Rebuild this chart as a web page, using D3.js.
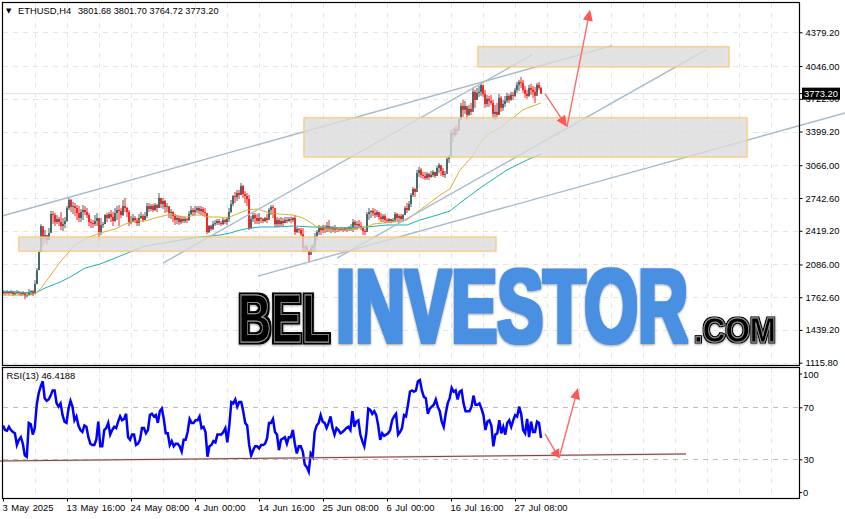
<!DOCTYPE html>
<html><head><meta charset="utf-8">
<script src="https://cdn.jsdelivr.net/npm/d3@7/dist/d3.min.js"></script>
<style>html,body{margin:0;padding:0;background:#fff}svg{display:block}text{font-family:"Liberation Sans",sans-serif;font-size:9.4px;fill:#000}</style>
</head><body><svg id="c" width="845" height="519"></svg>
<script>
const symbolTitle="ETHUSD,H4";
const ohlcTitle="3801.68 3801.70 3764.72 3773.20";
const rsiTitle="RSI(13) 46.4188";
const priceTicks=[4379.2,4046,3722,3399.2,3066,2742.6,2419.2,2086,1762.6,1439.2,1115.8];
const rsiTicks=[70,30];
const rsiLabelled=["100","70","30","0"];
const timeTickBars=[0,64,128,192,256,320,384,448,512];
const timeTickLabels=["3 May 2025","13 May 16:00","24 May 08:00","4 Jun 00:00","14 Jun 16:00","25 Jun 08:00","6 Jul 00:00","16 Jul 16:00","27 Jul 08:00"];
const lastPrice=3773.2;
const highs=[1832,1823,1832,1823,1832,1823,1823,1832,1823,1813,1823,1803,1803,1843,1832,1832,1931,2050,2228,2485,2436,2426,2377,2446,2614,2614,2594,2574,2555,2604,2545,2555,2663,2743,2733,2703,2693,2673,2663,2634,2673,2663,2644,2594,2535,2525,2574,2594,2545,2545,2505,2584,2594,2604,2624,2604,2644,2663,2673,2644,2723,2743,2654,2624,2565,2584,2565,2545,2584,2604,2584,2604,2693,2693,2683,2683,2693,2683,2792,2743,2743,2723,2693,2654,2634,2614,2584,2574,2565,2565,2555,2555,2545,2614,2663,2644,2663,2663,2663,2663,2654,2644,2594,2476,2476,2515,2525,2535,2535,2515,2545,2535,2555,2644,2723,2772,2802,2822,2822,2891,2871,2812,2792,2772,2565,2594,2594,2584,2594,2555,2545,2555,2584,2644,2673,2673,2604,2555,2545,2555,2545,2555,2555,2555,2555,2555,2574,2456,2446,2446,2446,2278,2278,2228,2278,2288,2396,2426,2476,2466,2476,2476,2505,2525,2466,2466,2476,2456,2456,2456,2456,2456,2456,2466,2485,2535,2525,2515,2525,2505,2456,2436,2604,2644,2624,2644,2634,2624,2604,2594,2584,2584,2545,2545,2535,2545,2604,2594,2584,2584,2584,2663,2693,2713,2792,2851,2841,3020,3049,3039,3000,3000,3000,2990,3010,3020,3000,3059,3089,3059,3039,3010,3148,3168,3415,3435,3455,3464,3534,3682,3712,3702,3633,3662,3682,3830,3811,3830,3850,3880,3840,3811,3761,3751,3761,3712,3662,3682,3771,3751,3712,3751,3781,3771,3791,3791,3830,3890,3909,3939,3909,3850,3811,3860,3870,3850,3840,3880,3890,3840];
const lows=[1793,1783,1793,1783,1793,1773,1783,1793,1783,1773,1783,1744,1763,1783,1783,1773,1803,1892,2030,2228,2268,2298,2278,2327,2406,2485,2466,2485,2466,2426,2416,2446,2505,2624,2604,2584,2565,2525,2505,2505,2525,2574,2545,2466,2446,2446,2466,2466,2317,2377,2446,2485,2505,2535,2505,2466,2505,2525,2466,2545,2565,2604,2555,2466,2485,2505,2495,2466,2466,2535,2505,2525,2545,2604,2614,2604,2614,2604,2644,2644,2634,2594,2604,2545,2535,2505,2476,2485,2476,2485,2495,2495,2495,2515,2574,2565,2574,2594,2584,2574,2565,2555,2386,2396,2416,2426,2466,2476,2476,2466,2476,2485,2476,2505,2594,2663,2693,2713,2733,2772,2743,2693,2663,2426,2436,2505,2485,2485,2485,2495,2495,2505,2495,2545,2574,2545,2456,2456,2456,2466,2456,2495,2495,2505,2495,2505,2377,2396,2396,2367,2209,2209,2209,2110,2209,2209,2209,2327,2377,2377,2396,2396,2406,2406,2396,2406,2396,2406,2406,2416,2406,2416,2406,2416,2416,2406,2426,2426,2446,2426,2377,2377,2426,2525,2545,2565,2545,2555,2525,2505,2505,2495,2495,2495,2495,2505,2505,2505,2495,2515,2505,2574,2594,2614,2654,2752,2752,2841,2950,2940,2930,2921,2921,2921,2940,2950,2940,2970,2990,2960,2950,2940,3020,3089,3148,3296,3346,3366,3435,3514,3544,3573,3514,3553,3563,3633,3633,3712,3741,3751,3741,3633,3642,3642,3662,3534,3514,3534,3563,3593,3603,3642,3682,3682,3702,3712,3741,3781,3801,3830,3781,3731,3722,3741,3761,3731,3682,3791,3811,3771];
const closes=[1813,1803,1813,1803,1813,1793,1803,1813,1803,1793,1803,1773,1783,1813,1823,1793,1892,2030,2209,2466,2347,2377,2327,2396,2584,2574,2505,2535,2505,2466,2485,2515,2644,2723,2654,2663,2644,2594,2545,2604,2624,2604,2574,2505,2495,2485,2515,2545,2406,2476,2485,2574,2545,2584,2555,2515,2594,2624,2614,2574,2663,2644,2604,2505,2505,2545,2525,2495,2545,2565,2525,2565,2663,2634,2663,2624,2673,2644,2743,2683,2713,2654,2663,2594,2604,2565,2525,2545,2505,2535,2515,2535,2525,2584,2624,2604,2624,2644,2614,2634,2604,2594,2406,2466,2436,2485,2495,2515,2495,2485,2525,2505,2535,2604,2683,2762,2752,2792,2772,2861,2782,2762,2733,2446,2535,2574,2545,2515,2545,2535,2515,2545,2525,2624,2654,2644,2485,2525,2485,2515,2495,2525,2515,2535,2525,2545,2406,2436,2426,2386,2248,2258,2228,2179,2248,2268,2367,2406,2446,2426,2456,2436,2466,2436,2446,2426,2446,2436,2426,2436,2426,2446,2436,2446,2446,2505,2476,2485,2466,2456,2416,2406,2584,2604,2614,2594,2574,2604,2555,2535,2565,2525,2515,2535,2515,2525,2584,2545,2565,2535,2574,2644,2624,2683,2772,2832,2802,2990,3020,2970,2960,2940,2980,2950,2970,3000,2960,3039,3069,3010,2970,2980,3128,3148,3385,3366,3425,3405,3514,3652,3613,3652,3563,3623,3593,3791,3712,3781,3791,3860,3771,3672,3722,3702,3682,3573,3593,3563,3731,3633,3672,3702,3751,3712,3761,3751,3811,3860,3890,3880,3811,3771,3751,3830,3811,3791,3751,3860,3830,3773];
const maFastBars=[0,27,33,39,47,57,65,72,84,97,112,122,132,142,152,160,169,175,184,192,200,205,217,224,234,244,254,267,277,290,300,307,314,327,347,364,370,390,404,410,424,437,447,457,469,477,487,497,510,520,530,538];
const maFastValues=[1783,1783,1803,1863,1971,2110,2199,2278,2347,2396,2436,2485,2515,2515,2545,2565,2584,2565,2555,2574,2574,2555,2555,2545,2584,2624,2634,2594,2584,2574,2545,2505,2456,2436,2436,2456,2485,2505,2525,2574,2673,2772,2832,3020,3148,3287,3385,3435,3534,3613,3652,3682];
const maSlowBars=[0,32,42,57,67,82,97,112,127,142,162,177,197,217,227,237,247,257,274,290,310,337,364,384,404,417,434,447,457,477,504,524,538];
const maSlowValues=[1823,1803,1853,1912,1961,2050,2090,2149,2209,2268,2298,2327,2357,2377,2396,2426,2446,2456,2456,2466,2456,2446,2456,2476,2476,2525,2574,2614,2693,2841,3020,3118,3178];
const rsiValues=[56,52.5,52,55,52.5,51,50,41,45,47,42,33,32,58,57,49,54,72,81,86,90,77,75,76,79,83,83,73,70.5,73,64,59,58,69,75,70.5,60,63,56,52.5,51,56,55,47,42,41,41,45,59,40,40,52.5,54,58,49,52.5,55,54,59,63,60,61,65,47,45,49,49,41,42,45,54,54,50,52.5,64,65,63,64,58,67,69,61,50,50,41,44,40,42,42,40,36,45,45,51,61,58,58,60,60,63,54,55,51,32,40,41,44,43,49,49,49,51,54,43,56,74,73,76,70.5,74,74,67,58,56,41,33,37,40,40,38.4,41,41,42,46,58,58,61,51,49,37,45,46,47,42,47,47,52.5,42,34.5,40,40,36,26,24,20.5,34.5,32,51,56,58,64,59,58,54,58,63,54,49,54,52.5,50,51,52.5,54,55,52.5,67,55,59,60,49,44,40,50,69,68,65,67,64,56,45,50,48,49,50,52.5,60,63,65,49,51,54,64,63,72,82,83,82,83,90,91,83,78,77,65,69,70.5,72,76,70.5,67,59,55,65,73,77,85,82,83,76,82,83,73,67,67,67,70.5,79,72,72,73,69,64,52.5,59,60,56,40,49,50,60,50,55,49,58,60,55,60,64,63,70.5,65,52.5,50,61,47,59,51,51,59,58,46.4];
const trendStartBars=[-1,160,255,334];
const trendStartPrices=[2565,2100,1971,2149];
const trendEndBars=[609,529,842,703];
const trendEndPrices=[4246,4157,3583,4206];
const zoneStartBars=[16,301,475];
const zoneEndBars=[493,744,726];
const zoneTopPrices=[2357,3534,4236];
const zoneBottomPrices=[2218,3148,4038];
const arrowBars=[542,564,587];
const arrowPrices=[3771,3445,4602];
const rsiArrowBars=[542,556,575];
const rsiArrowValues=[49.5,31,84.8];
const rsiTrendBars=[-3,683];
const rsiTrendValues=[28.7,34.1];

const svg=d3.select("#c");
const x=d3.scaleLinear().domain([0,796]).range([3,799]);
const y=d3.scaleLinear().domain([1115.8,4379.2]).range([362.7,32.3]);
const r=d3.scaleLinear().domain([0,100]).range([498.3,368.3]);
const defs=svg.append("defs");
const blur=defs.append("filter").attr("id","zs").attr("x","-5%").attr("y","-30%").attr("width","110%").attr("height","160%");
blur.append("feGaussianBlur").attr("stdDeviation",2.5);
function dilate(id,color,rad){
 const f=defs.append("filter").attr("id",id).attr("filterUnits","userSpaceOnUse").attr("x",200).attr("y",240).attr("width",620).attr("height",125);
 f.append("feMorphology").attr("in","SourceAlpha").attr("operator","dilate").attr("radius",rad).attr("result","d");
 f.append("feFlood").attr("flood-color",color).attr("result","c");
 f.append("feComposite").attr("in","c").attr("in2","d").attr("operator","in").attr("result","body");
 f.append("feGaussianBlur").attr("in","d").attr("stdDeviation",1.3).attr("result","b");
 f.append("feOffset").attr("in","b").attr("dy",1).attr("result","o");
 f.append("feFlood").attr("flood-color","#555").attr("flood-opacity",.55).attr("result","sc");
 f.append("feComposite").attr("in","sc").attr("in2","o").attr("operator","in").attr("result","sh");
 const m=f.append("feMerge");
 ["sh","body","SourceGraphic"].forEach(n=>m.append("feMergeNode").attr("in",n));
}
dilate("dk","#000",2.4);
dilate("bl","#4a90e2",2.4);
dilate("dk2","#000",1.3);
defs.append("clipPath").attr("id","pc").append("rect").attr("x",3).attr("y",3).attr("width",796).attr("height",362);
defs.append("clipPath").attr("id","rc").append("rect").attr("x",3).attr("y",368).attr("width",796).attr("height",130);

// grid
const gridBars=d3.range(32,796,32);
const grid=svg.append("g").attr("stroke","#e6e6e6").attr("stroke-width",1).attr("stroke-dasharray","5 5");
grid.selectAll("line.v").data(gridBars).join("line").attr("x1",d=>x(d)+.5).attr("x2",d=>x(d)+.5).attr("y1",3).attr("y2",365);
grid.selectAll("line.w").data(gridBars).join("line").attr("x1",d=>x(d)+.5).attr("x2",d=>x(d)+.5).attr("y1",368).attr("y2",498);
grid.selectAll("line.h").data(priceTicks).join("line").attr("x1",3).attr("x2",799).attr("y1",d=>Math.round(y(d))+.5).attr("y2",d=>Math.round(y(d))+.5);
svg.append("g").attr("stroke","#bdbdbd").attr("stroke-dasharray","5 5").selectAll("line").data(rsiTicks).join("line").attr("x1",3).attr("x2",799).attr("y1",d=>Math.round(r(d))+.5).attr("y2",d=>Math.round(r(d))+.5);
svg.append("line").attr("x1",3).attr("x2",799).attr("y1",y(lastPrice)).attr("y2",y(lastPrice)).attr("stroke","#e2e2e2");

// candles
const candles=closes.map((c,i)=>({b:i*2,h:highs[i],l:lows[i],c,o:i?closes[i-1]:c}));
const up="#2f4f4f",dn="#ff0000";
const cg=svg.append("g").attr("clip-path","url(#pc)");
cg.selectAll("line.w").data(candles).join("line").attr("x1",d=>x(d.b)).attr("x2",d=>x(d.b)).attr("y1",d=>y(d.h)).attr("y2",d=>y(d.l)).attr("stroke",d=>d.c<d.o?dn:up).attr("stroke-width",.9);
cg.selectAll("rect.b").data(candles).join("rect").attr("x",d=>x(d.b)-.75).attr("width",1.5).attr("y",d=>y(Math.max(d.o,d.c))).attr("height",d=>Math.max(1,Math.abs(y(d.o)-y(d.c)))).attr("fill",d=>d.c<d.o?dn:up);
const line=(sx,sy)=>d3.line().x(d=>sx(d[0])).y(d=>sy(d[1]));
cg.append("path").attr("d",line(x,y)(maSlowBars.map((b,i)=>[b,maSlowValues[i]]))).attr("fill","none").attr("stroke","#20b2aa").attr("stroke-width",1);
cg.append("path").attr("d",line(x,y)(maFastBars.map((b,i)=>[b,maFastValues[i]]))).attr("fill","none").attr("stroke","#daa520").attr("stroke-width",.9);
// trend lines
svg.append("g").attr("stroke","#a7bac8").attr("stroke-width",1.4).selectAll("line").data(trendStartBars).join("line")
 .attr("x1",d=>x(d)).attr("y1",(d,i)=>y(trendStartPrices[i])).attr("x2",(d,i)=>x(trendEndBars[i])).attr("y2",(d,i)=>y(trendEndPrices[i]));
// zones: soft halo, then translucent fill
const zoneX=d=>x(d),zoneW=(d,i)=>x(zoneEndBars[i])-x(d),zoneY=(d,i)=>y(zoneTopPrices[i]),zoneH=(d,i)=>y(zoneBottomPrices[i])-y(zoneTopPrices[i]);
svg.append("g").attr("filter","url(#zs)").selectAll("rect").data(zoneStartBars).join("rect").attr("x",zoneX).attr("width",zoneW).attr("y",zoneY).attr("height",zoneH).attr("fill","rgba(190,190,190,.28)");
svg.append("g").selectAll("rect").data(zoneStartBars).join("rect").attr("x",zoneX).attr("width",zoneW).attr("y",zoneY).attr("height",zoneH)
 .attr("fill","rgba(222,222,222,.72)").attr("stroke","#f5c978").attr("stroke-width",1.2);

// logo
function logoText(t,x0,x1,base,size,fill,filt,outline){
 const g=svg.append("g").attr("filter","url(#"+filt+")");
 const el=g.append("text").text(t).style("font-family","'Liberation Sans',sans-serif").style("font-weight","700").style("font-size",size+"px").style("fill",fill);
 const sx=(x1-x0)/el.node().getComputedTextLength();
 el.attr("transform","translate("+x0+","+base+") scale("+sx+",1)");
 if(outline) el.attr("stroke",outline).attr("stroke-width",.9);
}
logoText("BEL",238,330,342,69,"#000","dk","#a0a0a0");
logoText("INVESTOR",336,688,342,104,"#4a90e2","bl",null);
logoText(".COM",694,776,342,36,"#000","dk2","#9a9a9a");

// rsi
const rg=svg.append("g").attr("clip-path","url(#rc)");
rg.append("path").attr("d",line(x,r)(rsiValues.map((v,i)=>[i*538/(rsiValues.length-1),v]))).attr("fill","none").attr("stroke","#0000ff").attr("stroke-width",2.5).attr("stroke-linejoin","miter");
const rtrend=[0,1].map(i=>[rsiTrendBars[i],rsiTrendValues[i]]);
svg.append("path").attr("d",line(x,r)(rtrend)).attr("stroke","#c9b5b5").attr("stroke-width",2.2).attr("fill","none").attr("opacity",.5);
svg.append("path").attr("d",line(x,r)(rtrend)).attr("stroke","#8a3f3f").attr("stroke-width",1).attr("fill","none");

// arrows
function arrow(sx,sy,bars,vals){
 const pts=bars.map((b,i)=>[sx(b),sy(vals[i])]);
 const g=svg.append("g");
 for(let i=0;i<2;i++){
  const a=pts[i],b=pts[i+1],ang=Math.atan2(b[1]-a[1],b[0]-a[0]),L=Math.hypot(b[0]-a[0],b[1]-a[1]);
  const hl=Math.min(11,L*.3),hw=5;
  g.append("line").attr("x1",a[0]).attr("y1",a[1]).attr("x2",b[0]-Math.cos(ang)*hl*.7).attr("y2",b[1]-Math.sin(ang)*hl*.7).attr("stroke","#ff6a6a").attr("stroke-width",1.4);
  const bx=b[0]-Math.cos(ang)*hl,by=b[1]-Math.sin(ang)*hl;
  g.append("path").attr("d",d3.line()([[b[0],b[1]],[bx-Math.sin(ang)*hw,by+Math.cos(ang)*hw],[bx+Math.sin(ang)*hw,by-Math.cos(ang)*hw]])+"Z").attr("fill","#ff5555");
 }
}
arrow(x,y,arrowBars,arrowPrices);
arrow(x,r,rsiArrowBars,rsiArrowValues);

// axes
const pa=d3.axisRight(y).tickValues(priceTicks).tickFormat(d3.format(".2f")).tickSize(3).tickPadding(3);
const pg=svg.append("g").attr("transform","translate(799.5,0)").call(pa);
pg.select(".domain").remove();
const ra=d3.axisRight(r).tickValues(rsiTicks).tickFormat(d=>d).tickSize(3).tickPadding(1);
const rag=svg.append("g").attr("transform","translate(799.5,0)").call(ra);
rag.select(".domain").remove();
const ta=d3.axisBottom(x).tickValues(timeTickBars).tickFormat((d,i)=>timeTickLabels[i]).tickSize(3).tickPadding(4);
const tg=svg.append("g").attr("transform","translate(0,498.5)").call(ta);
tg.select(".domain").remove();
tg.selectAll("text").attr("text-anchor","start").attr("dx",-1).attr("dy",".6em").style("word-spacing","1px");
svg.selectAll(".tick text").style("font-family","'Liberation Sans',sans-serif").style("font-size","9.4px");
svg.append("text").attr("x",803).attr("y",377.5).text(rsiLabelled[0]);
svg.append("text").attr("x",803).attr("y",495.5).text(rsiLabelled[3]);
svg.append("line").attr("x1",799).attr("x2",802).attr("y1",374).attr("y2",374).attr("stroke","#000");
svg.append("line").attr("x1",799).attr("x2",802).attr("y1",492.5).attr("y2",492.5).attr("stroke","#000");

// frames
const fr=svg.append("g").attr("fill","none").attr("stroke","#000").attr("stroke-width",1.2);
fr.append("rect").attr("x",2.5).attr("y",2.5).attr("width",797).attr("height",363);
fr.append("rect").attr("x",2.5).attr("y",367.5).attr("width",797).attr("height",131);

// last price box
svg.append("rect").attr("x",802).attr("y",y(lastPrice)-6).attr("width",38).attr("height",12).attr("fill","#000");
svg.append("text").attr("x",804).attr("y",y(lastPrice)+3.5).text(lastPrice.toFixed(2)).style("fill","#fff");
svg.append("line").attr("x1",799).attr("x2",803).attr("y1",y(lastPrice)).attr("y2",y(lastPrice)).attr("stroke","#000");

// titles
svg.append("text").attr("x",6).attr("y",13).text("▼").style("font-family","'DejaVu Sans'").style("font-size","7px");
svg.append("text").attr("x",18).attr("y",13.5).text(symbolTitle);
svg.append("text").attr("x",78).attr("y",13.5).text(ohlcTitle).style("font-size","9.2px");
svg.append("text").attr("x",6.5).attr("y",379).text(rsiTitle);
</script></body></html>
